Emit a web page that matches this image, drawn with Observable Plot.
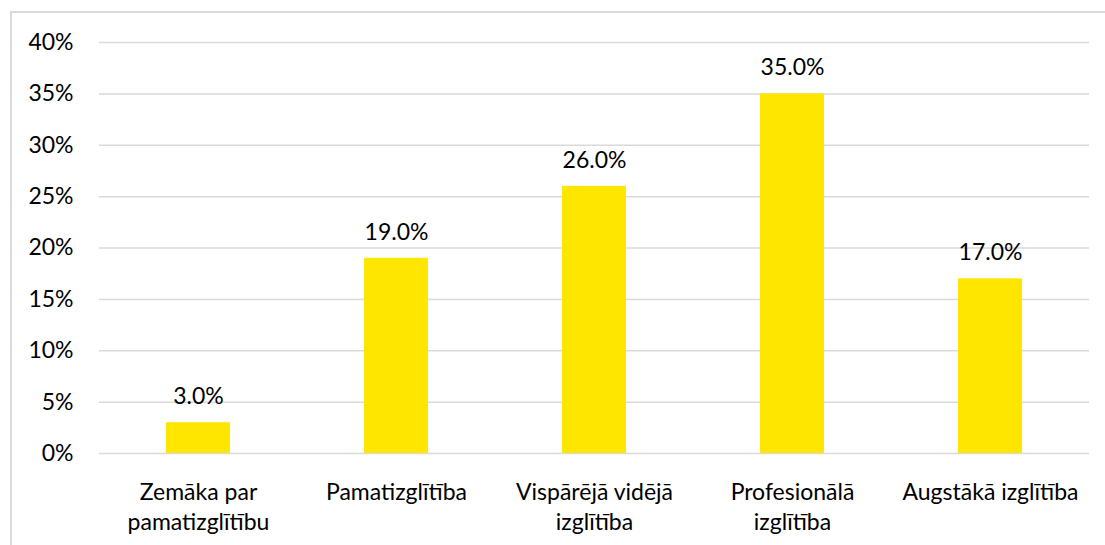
<!DOCTYPE html>
<html>
<head>
<meta charset="utf-8">
<script src="https://cdn.jsdelivr.net/npm/d3@7"></script>
<script src="https://cdn.jsdelivr.net/npm/@observablehq/plot@0.6"></script>
<style>
  html, body { margin: 0; padding: 0; background: #fff; }
  #wrap { position: relative; width: 1105px; height: 545px; overflow: hidden; }
  #border { position: absolute; left: 10px; top: 11px; width: 1200px; height: 600px;
            border-left: 2px solid #d9d9d9; border-top: 2px solid #d9d9d9; box-sizing: border-box; }
  #chart { position: absolute; left: 0; top: 0; }
</style>
</head>
<body>
<div id="wrap"><div id="border"></div><div id="chart"></div></div>
<script>
const categories = ["Zemāka par pamatizglītību", "Pamatizglītība", "Vispārējā vidējā izglītība", "Profesionālā izglītība", "Augstākā izglītība"];
const tickLabels = ["Zemāka par\npamatizglītību", "Pamatizglītība", "Vispārējā vidējā\nizglītība", "Profesionālā\nizglītība", "Augstākā izglītība"];
const values = [3.0, 19.0, 26.0, 35.0, 17.0];
const yTicks = [0, 5, 10, 15, 20, 25, 30, 35, 40];

const data = categories.map((c, i) => ({category: c, value: values[i], label: tickLabels[i]}));
const labelOf = new Map(data.map(d => [d.category, d.label]));
const FS = 23;

const chart = Plot.plot({
  width: 1105,
  height: 545,
  marginLeft: 99,
  marginRight: 16,
  marginTop: 42,
  marginBottom: 92,
  style: {fontFamily: "Lato, 'Open Sans', sans-serif", fontSize: FS + "px", color: "#000", background: "transparent"},
  x: {domain: categories, paddingInner: 0.677, paddingOuter: 0.3385, label: null},
  y: {domain: [0, 40], ticks: yTicks, label: null},
  marks: [
    Plot.gridY(yTicks, {stroke: "#d9d9d9", strokeOpacity: 1, strokeWidth: 1.5}),
    Plot.barY(data, {x: "category", y: "value", fill: "#FFE600"}),
    Plot.text(data, {x: "category", y: "value", text: d => d.value.toFixed(1) + "%", dy: -26, fill: "#000", fontSize: FS}),
    Plot.axisY(yTicks, {tickSize: 0, tickPadding: 26, tickFormat: d => d + "%", fontSize: FS, fill: "#000", label: null}),
    Plot.axisX({tickSize: 0, tickPadding: 25, tickFormat: d => labelOf.get(d), fontSize: FS, fill: "#000", lineHeight: 1.3, label: null})
  ]
});
document.getElementById("chart").appendChild(chart);
</script>
</body>
</html>
